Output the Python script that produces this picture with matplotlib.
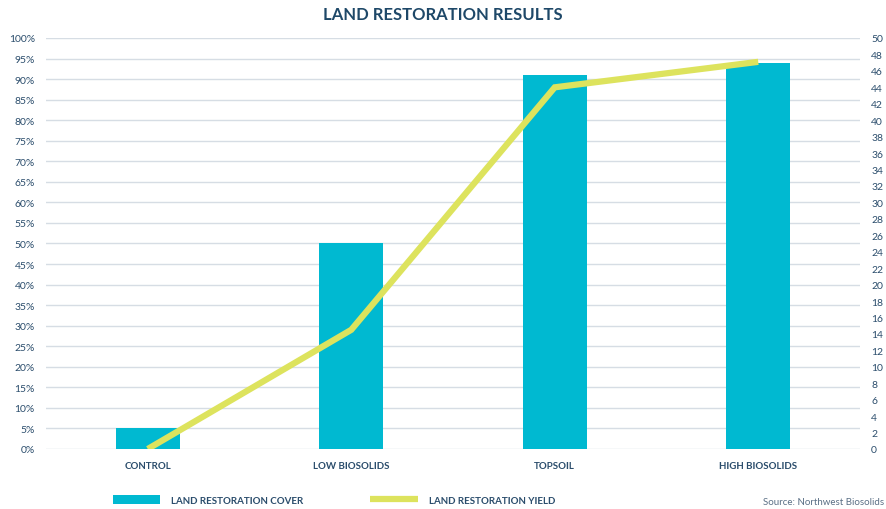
import matplotlib.pyplot as plt
from matplotlib.ticker import FuncFormatter

plt.rcParams["font.family"] = ["Lato", "DejaVu Sans"]

# Data
categories = ["CONTROL", "LOW BIOSOLIDS", "TOPSOIL", "HIGH BIOSOLIDS"]
cover_pct = [5, 50, 91, 94]          # land restoration cover (left axis, %)
yield_vals = [0, 14.5, 44, 47.1]     # land restoration yield (right axis)

BAR_COLOR = "#00b9d1"
LINE_COLOR = "#dde35d"
TEXT_COLOR = "#2b4d6c"
GRID_COLOR = "#d6dde4"

fig = plt.figure(figsize=(8.86, 5.10), dpi=100)
ax = fig.add_axes([46 / 886, 1 - 450 / 510, (860 - 46) / 886, (450 - 39) / 510])

x = range(len(categories))
bars = ax.bar(x, cover_pct, width=0.315, color=BAR_COLOR, zorder=2,
              label="LAND RESTORATION COVER")
ax.set_xlim(-0.5, 3.5)
ax.set_ylim(0, 100)
ax.set_yticks(range(0, 101, 5))
ax.yaxis.set_major_formatter(FuncFormatter(lambda v, p: f"{v:.0f}%"))
ax.set_xticks(list(x))
ax.set_xticklabels(categories, fontweight="bold", fontsize=7)
ax.grid(axis="y", color=GRID_COLOR, linewidth=1, zorder=0)
ax.set_axisbelow(True)
for s in ax.spines.values():
    s.set_visible(False)
ax.tick_params(axis="both", length=0, colors=TEXT_COLOR)
ax.tick_params(axis="y", labelsize=7.5, pad=8)
ax.tick_params(axis="x", pad=9)

ax2 = ax.twinx()
line, = ax2.plot(x, yield_vals, color=LINE_COLOR, linewidth=4.5,
                 solid_capstyle="butt", solid_joinstyle="miter",
                 label="LAND RESTORATION YIELD")
ax2.set_ylim(0, 50)
ax2.set_yticks(range(0, 51, 2))
for s in ax2.spines.values():
    s.set_visible(False)
ax2.tick_params(axis="y", length=0, colors=TEXT_COLOR, labelsize=7.5, pad=8)

fig.text(0.5, 1 - 15 / 510, "LAND RESTORATION RESULTS", ha="center", va="center",
         fontsize=12, fontweight="bold", color="#1e4868")

fig.legend(handles=[bars, line], loc="center left",
           bbox_to_anchor=(104 / 886, 1 - 501 / 510), ncol=2, frameon=False,
           prop={"size": 7, "weight": "bold"}, labelcolor=TEXT_COLOR,
           handlelength=4.9, handleheight=1.1, handletextpad=1.1,
           columnspacing=6.9)

fig.text(884 / 886, 1 - 503 / 510, "Source: Northwest Biosolids", ha="right",
         va="center", fontsize=7, color="#5a6f85")

fig.savefig("out.png", dpi=100)
